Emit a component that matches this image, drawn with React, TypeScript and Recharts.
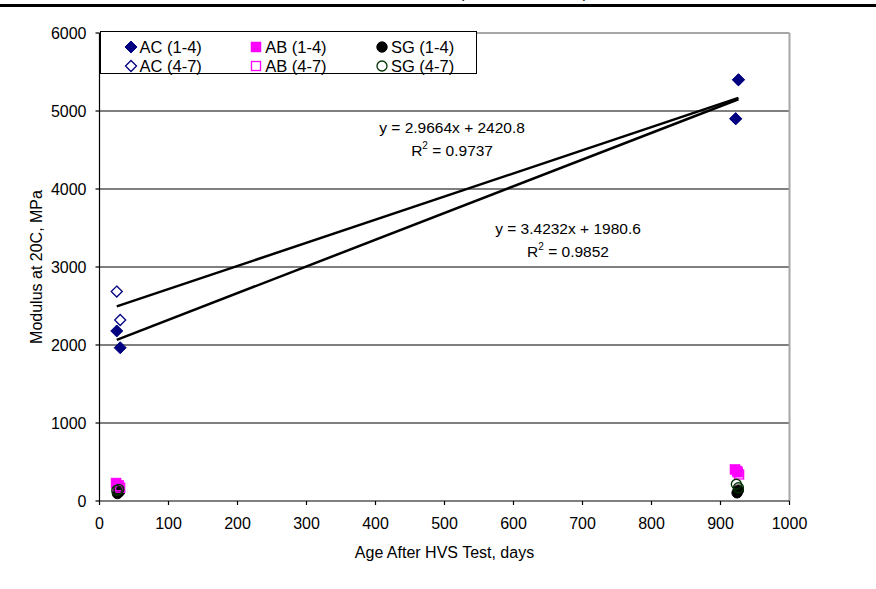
import React from 'react';
import {
  ScatterChart,
  Scatter,
  XAxis,
  YAxis,
  ReferenceLine,
  ReferenceDot,
  Legend,
  Label,
} from 'recharts';

// ---------- data ----------
const xTicks = [0, 100, 200, 300, 400, 500, 600, 700, 800, 900, 1000];
const yTicks = [0, 1000, 2000, 3000, 4000, 5000, 6000];
const gridValues = [1000, 2000, 3000, 4000, 5000];

const seriesNames = ['AC (1-4)', 'AB (1-4)', 'SG (1-4)', 'AC (4-7)', 'AB (4-7)', 'SG (4-7)'];

const ac14 = [
  { x: 25, y: 2180 },
  { x: 30, y: 1965 },
  { x: 926, y: 5400 },
  { x: 922, y: 4900 },
];
const ab14 = [
  { x: 24, y: 230 },
  { x: 28, y: 200 },
  { x: 921, y: 405 },
  { x: 925, y: 370 },
];
const sg14 = [
  { x: 26, y: 95 },
  { x: 29, y: 120 },
  { x: 924, y: 105 },
  { x: 926, y: 140 },
];
const ac47 = [
  { x: 25, y: 2685 },
  { x: 30, y: 2320 },
  { x: 926, y: 5400 },
  { x: 922, y: 4902 },
];
const ab47 = [
  { x: 26, y: 190 },
  { x: 30, y: 170 },
  { x: 924, y: 385 },
  { x: 927, y: 340 },
];
const sg47 = [
  { x: 25, y: 135 },
  { x: 28, y: 150 },
  { x: 923, y: 215 },
  { x: 926, y: 170 },
];

// trendlines (printed equations)
const trendSlopes = [2.9664, 3.4232]; // AC (4-7), AC (1-4)
const trendIntercepts = [2420.8, 1980.6];
const trendR2 = ['0.9737', '0.9852'];
const trendSeries = [ac47, ac14];
// where each equation label is anchored (data coords)
const trendLabelAt = [
  { x: 511, y: 4565 },
  { x: 679, y: 3265 },
];

// ---------- styles ----------
const FONT = '"Liberation Sans", Arial, Helvetica, sans-serif';
const NAVY = '#000080';
const MAGENTA = '#FF00FF';
const DKGREEN = '#003300';

// ---------- marker shapes ----------
const diamondPts = (cx: number, cy: number, r: number) =>
  `${cx},${cy - r} ${cx + r},${cy} ${cx},${cy + r} ${cx - r},${cy}`;

const FilledDiamond = (p: any) => (
  <polygon points={diamondPts(p.cx, p.cy, 6)} fill={NAVY} stroke={NAVY} strokeWidth={1} />
);
const HollowDiamond = (p: any) => (
  <polygon points={diamondPts(p.cx, p.cy, 5.5)} fill="none" stroke={NAVY} strokeWidth={1.3} />
);
const FilledSquare = (p: any) => (
  <rect x={p.cx - 5} y={p.cy - 5} width={10} height={10} fill={MAGENTA} stroke={MAGENTA} strokeWidth={0.5} />
);
const HollowSquare = (p: any) => (
  <rect x={p.cx - 4.5} y={p.cy - 4.5} width={9} height={9} fill="none" stroke={MAGENTA} strokeWidth={1.3} />
);
const FilledCircle = (p: any) => (
  <circle cx={p.cx} cy={p.cy} r={5.2} fill="#000" stroke="#000" strokeWidth={1} />
);
const HollowCircle = (p: any) => (
  <circle cx={p.cx} cy={p.cy} r={5} fill="none" stroke={DKGREEN} strokeWidth={1.3} />
);

const legendShapes = [FilledDiamond, FilledSquare, FilledCircle, HollowDiamond, HollowSquare, HollowCircle];

const LegendBox = () => (
  <div
    style={{
      position: 'relative',
      width: 377,
      height: 43,
      boxSizing: 'border-box',
      border: '1px solid #000',
      background: '#fff',
      fontFamily: FONT,
      fontSize: 16.5,
      color: '#000',
    }}
  >
    {seriesNames.map((name, i) => {
      const col = i % 3;
      const row = Math.floor(i / 3);
      const Shape = legendShapes[i];
      return (
        <div
          key={name}
          style={{
            position: 'absolute',
            left: 22.5 + col * 125.7,
            top: 4.5 + row * 19,
            height: 20,
            display: 'flex',
            alignItems: 'center',
            whiteSpace: 'nowrap',
            lineHeight: '20px',
          }}
        >
          <svg width={14} height={14} style={{ display: 'block' }}>
            <Shape cx={7} cy={7} />
          </svg>
          <span style={{ marginLeft: 2 }}>{name}</span>
        </div>
      );
    })}
  </div>
);

const TrendLabel = (idx: number) => (props: any) => {
  const vb = props.viewBox || {};
  const cx = vb.cx !== undefined ? vb.cx : vb.x;
  const cy = vb.cy !== undefined ? vb.cy : vb.y;
  const sign = trendIntercepts[idx] >= 0 ? '+' : '-';
  return (
    <g fontFamily={FONT} fontSize={15.5} fill="#000">
      <text x={cx} y={cy - 12} textAnchor="middle">
        {`y = ${trendSlopes[idx].toFixed(4)}x ${sign} ${Math.abs(trendIntercepts[idx]).toFixed(1)}`}
      </text>
      <text x={cx} y={cy + 11} textAnchor="middle">
        R<tspan fontSize={10} dy={-7}>2</tspan>
        <tspan dy={7}>{` = ${trendR2[idx]}`}</tspan>
      </text>
    </g>
  );
};

const YLabel = (props: any) => {
  const vb = props.viewBox || { x: 0, y: 0, width: 0, height: 0 };
  const x = vb.x + 2;
  const y = vb.y + vb.height / 2;
  return (
    <text
      x={x}
      y={y}
      transform={`rotate(-90, ${x}, ${y})`}
      textAnchor="middle"
      fontFamily={FONT}
      fontSize={16}
      fill="#000"
    >
      Modulus at 20C, MPa
    </text>
  );
};

const XLabel = (props: any) => {
  const vb = props.viewBox || { x: 0, y: 0, width: 0, height: 0 };
  return (
    <text
      x={vb.x + vb.width / 2}
      y={vb.y + 57}
      textAnchor="middle"
      fontFamily={FONT}
      fontSize={16}
      fill="#000"
    >
      Age After HVS Test, days
    </text>
  );
};

export default function App() {
  const scatterDefs = [
    { data: ac14, shape: FilledDiamond },
    { data: ab14, shape: FilledSquare },
    { data: sg14, shape: FilledCircle },
    { data: ac47, shape: HollowDiamond },
    { data: ab47, shape: HollowSquare },
    { data: sg47, shape: HollowCircle },
  ];

  return (
    <div
      style={{
        position: 'absolute',
        left: 0,
        top: 0,
        width: 876,
        height: 589,
        background: '#fff',
        overflow: 'hidden',
      }}
    >
      {/* page title, mostly cut off above the picture as in the reference */}
      <div
        style={{
          position: 'absolute',
          left: 0,
          top: 0,
          width: 876,
          height: 4,
          overflow: 'hidden',
        }}
      >
        <div
          style={{
            position: 'absolute',
            left: 459,
            top: -15,
            fontFamily: FONT,
            fontSize: 16,
            lineHeight: '16px',
            whiteSpace: 'nowrap',
            color: '#000',
          }}
        >
          (Test Section 408)
        </div>
      </div>
      <div
        style={{
          position: 'absolute',
          left: 0,
          top: 4,
          width: 876,
          height: 3,
          background: '#000',
        }}
      />
      <ScatterChart
        width={876}
        height={589}
        margin={{ top: 33, right: 86.5, bottom: 28, left: 39.5 }}
        style={{ fontFamily: FONT }}
      >
        <XAxis
          type="number"
          dataKey="x"
          domain={[0, 1000]}
          ticks={xTicks}
          interval={0}
          height={60}
          tickSize={4}
          tickMargin={13}
          tick={{ fill: '#000', fontSize: 16, fontFamily: FONT }}
          axisLine={{ stroke: '#000', strokeWidth: 1.2 }}
          tickLine={{ stroke: '#000', strokeWidth: 1.2 }}
          allowDataOverflow
        >
          <Label content={XLabel} />
        </XAxis>
        <YAxis
          type="number"
          dataKey="y"
          domain={[0, 6000]}
          ticks={yTicks}
          interval={0}
          width={60}
          tickSize={4}
          tickMargin={9}
          tick={{ fill: '#000', fontSize: 16, fontFamily: FONT }}
          axisLine={{ stroke: '#000', strokeWidth: 1.2 }}
          tickLine={{ stroke: '#000', strokeWidth: 1.2 }}
          allowDataOverflow
        >
          <Label content={YLabel} />
        </YAxis>

        {gridValues.map((v) => (
          <ReferenceLine key={v} y={v} stroke="#000" strokeWidth={1.2} />
        ))}
        <ReferenceLine y={6000} stroke="#a6a6a6" strokeWidth={2} />
        <ReferenceLine x={1000} stroke="#a6a6a6" strokeWidth={2} />

        {trendSeries.map((s, i) => {
          const xs = s.map((d) => d.x);
          const x0 = Math.min(...xs);
          const x1 = Math.max(...xs);
          return (
            <ReferenceLine
              key={'t' + i}
              segment={[
                { x: x0, y: trendSlopes[i] * x0 + trendIntercepts[i] },
                { x: x1, y: trendSlopes[i] * x1 + trendIntercepts[i] },
              ]}
              stroke="#000"
              strokeWidth={2.5}
            />
          );
        })}

        {scatterDefs.map((d, i) => (
          <Scatter
            key={seriesNames[i]}
            name={seriesNames[i]}
            data={d.data}
            shape={d.shape}
            isAnimationActive={false}
          />
        ))}

        {trendLabelAt.map((p, i) => (
          <ReferenceDot
            key={'l' + i}
            x={p.x}
            y={p.y}
            r={0}
            fill="none"
            stroke="none"
            label={TrendLabel(i)}
          />
        ))}

        <Legend
          layout="vertical"
          align="center"
          verticalAlign="middle"
          wrapperStyle={{ left: 100, top: 31, width: 377, height: 43 }}
          content={() => <LegendBox />}
        />
      </ScatterChart>
    </div>
  );
}
